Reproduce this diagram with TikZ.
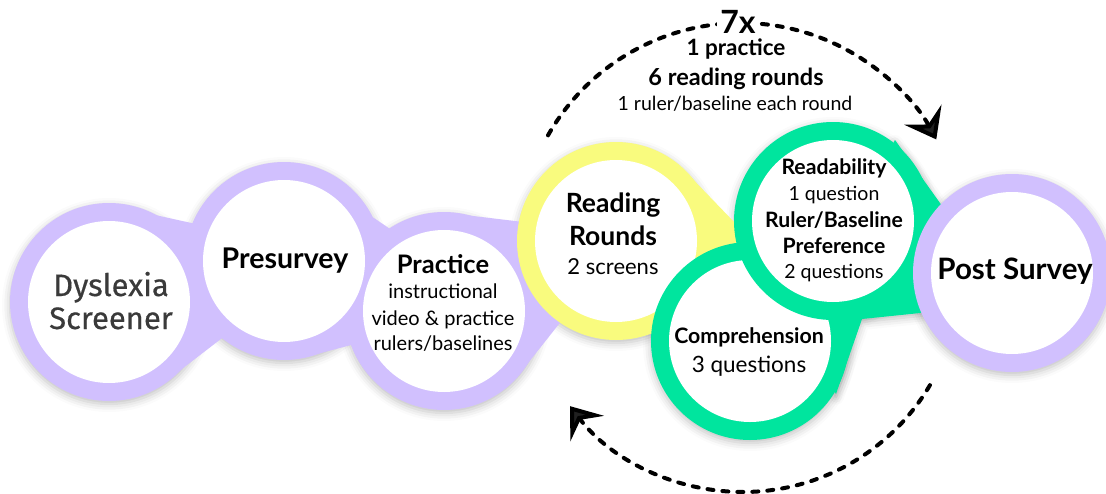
\documentclass[tikz,border=0pt]{standalone}
\usepackage{fontspec}
\setmainfont{Lato}
\newfontfamily\screenerfont{Fira Sans}[FakeBold=0.5]
\usetikzlibrary{arrows.meta,shadows.blur}

\definecolor{ringlilac}{HTML}{D1C0FE}
\definecolor{ringyellow}{HTML}{F9FB7E}
\definecolor{ringgreen}{HTML}{00E59E}
\definecolor{screenergray}{HTML}{3A3A3A}

\tikzset{
  rout/.style={radius=99},
  rin/.style={radius=81},
  glow/.style={blur shadow={shadow xshift=0pt, shadow yshift=-3pt,
      shadow blur radius=8pt, shadow opacity=25}},
  lbl/.style={anchor=base, inner sep=0pt, text=black},
  loop arc/.style={line width=4pt, dash pattern=on 6pt off 9pt,
      line cap=round, -{Stealth[length=28pt, width=42pt, inset=11pt]}},
}

\begin{document}
\begin{tikzpicture}[x=1pt, y=-1pt]
\useasboundingbox (0,0) rectangle (1106,493);

% centres of the stages
\coordinate (cD)  at (109,302);
\coordinate (cP)  at (284,261);
\coordinate (cPr) at (444,311);
\coordinate (cR)  at (616,241);
\coordinate (cC)  at (750,341);
\coordinate (cRd) at (833,221);
\coordinate (cPS) at (1012,273);

% soft shadow under the chain
\path[glow] (cD) circle[rout];
\path[glow] (cP) circle[rout];
\path[glow] (cPr) circle[rout];
\path[glow] (cR) circle[rout];
\path[glow] (cC) circle[rout];
\path[glow] (cRd) circle[rout];
\path[glow] (cPS) circle[rout];
\path[glow] (895,140) -- (945,210) -- (930,312) -- (862,319) -- (836,394) -- (800,330) -- (830,260) -- cycle;

% lilac stages and their links
\fill[ringlilac] (cD) circle[rout];
\fill[ringlilac] (cP) circle[rout];
\fill[ringlilac] (cPr) circle[rout];
\fill[ringlilac] (110,205) -- (205,226) -- (230,332) -- (165,382) -- cycle;
\fill[ringlilac] (340,195) -- (402,237) -- (370,340) -- (302,358) -- cycle;
\fill[ringlilac] (440,212) -- (540,224) -- (578,300) -- (517,377) -- (480,330) -- cycle;
\fill[white] (cD) circle[rin];
\fill[white] (cP) circle[rin];
\fill[white] (cPr) circle[rin];

% reading rounds
\fill[ringyellow] (cR) circle[rout];
\fill[ringyellow] (684,170) -- (736,224) -- (760,270) -- (700,300) -- (650,260) -- cycle;
\fill[white] (cR) circle[rin];

% question stages
\fill[ringgreen] (895,140) -- (945,210) -- (930,312) -- (862,319) -- (836,394) -- (800,330) -- (830,260) -- cycle;
\fill[ringgreen] (cC) circle[rout];
\fill[white] (cC) circle[rin];
\fill[ringgreen] (cRd) circle[rout];
\fill[white] (cRd) circle[rin];

% post survey
\fill[ringlilac] (cPS) circle[rout];
\fill[white] (cPS) circle[rin];

% repetition loop
\coordinate (topc) at (741,245);
\coordinate (botc) at (743,275);
\draw[loop arc] ([shift={(209.6:222)}]topc) arc[start angle=209.6, end angle=331.6, radius=222];
\draw[loop arc] ([shift={(30.5:217)}]botc) arc[start angle=30.5, end angle=142.8, radius=217];

% labels
\node[lbl, font=\bfseries\fontsize{32}{34}\selectfont, fill=white, inner sep=3pt] (times) at (738,33) {7x};
\node[lbl, font=\bfseries\fontsize{22.5}{24}\selectfont] (loop1) at (736,55) {1 practice};
\node[lbl, font=\bfseries\fontsize{23.5}{25}\selectfont] (loop2) at (736,85) {6 reading rounds};
\node[lbl, font=\fontsize{19.5}{21}\selectfont] (loop3) at (735,110) {1 ruler/baseline each round};

\node[lbl, font=\screenerfont\fontsize{31}{33}\selectfont, text=screenergray] (dys1) at (111,296) {Dyslexia};
\node[lbl, font=\screenerfont\fontsize{31}{33}\selectfont, text=screenergray] (dys2) at (111,329) {Screener};

\node[lbl, font=\bfseries\fontsize{28.5}{30}\selectfont] (pre) at (285,268) {Presurvey};

\node[lbl, font=\bfseries\fontsize{25.5}{27}\selectfont] (prac1) at (443,273) {Practice};
\node[lbl, font=\fontsize{20}{22}\selectfont] (prac2) at (443,298) {instructional};
\node[lbl, font=\fontsize{20}{22}\selectfont] (prac3) at (443,325) {video \& practice};
\node[lbl, font=\fontsize{20}{22}\selectfont] (prac4) at (443,350) {rulers/baselines};

\node[lbl, font=\bfseries\fontsize{26.5}{28}\selectfont] (read1) at (613,212) {Reading};
\node[lbl, font=\bfseries\fontsize{26.5}{28}\selectfont] (read2) at (613,245) {Rounds};
\node[lbl, font=\fontsize{22}{24}\selectfont] (read3) at (613,274) {2 screens};

\node[lbl, font=\bfseries\fontsize{21.2}{23}\selectfont] (rd1) at (834,174) {Readability};
\node[lbl, font=\fontsize{19.5}{21}\selectfont] (rd2) at (834,200) {1 question};
\node[lbl, font=\bfseries\fontsize{21.2}{23}\selectfont] (rd3) at (834,227) {Ruler/Baseline};
\node[lbl, font=\bfseries\fontsize{21.2}{23}\selectfont] (rd4) at (834,253) {Preference};
\node[lbl, font=\fontsize{19.5}{21}\selectfont] (rd5) at (834,278) {2 questions};

\node[lbl, font=\bfseries\fontsize{21.3}{23}\selectfont] (comp1) at (749,343) {Comprehension};
\node[lbl, font=\fontsize{22.5}{24}\selectfont] (comp2) at (749,372) {3 questions};

\node[lbl, font=\bfseries\fontsize{29.5}{31}\selectfont] (post) at (1015,279) {Post Survey};
\end{tikzpicture}
\end{document}
